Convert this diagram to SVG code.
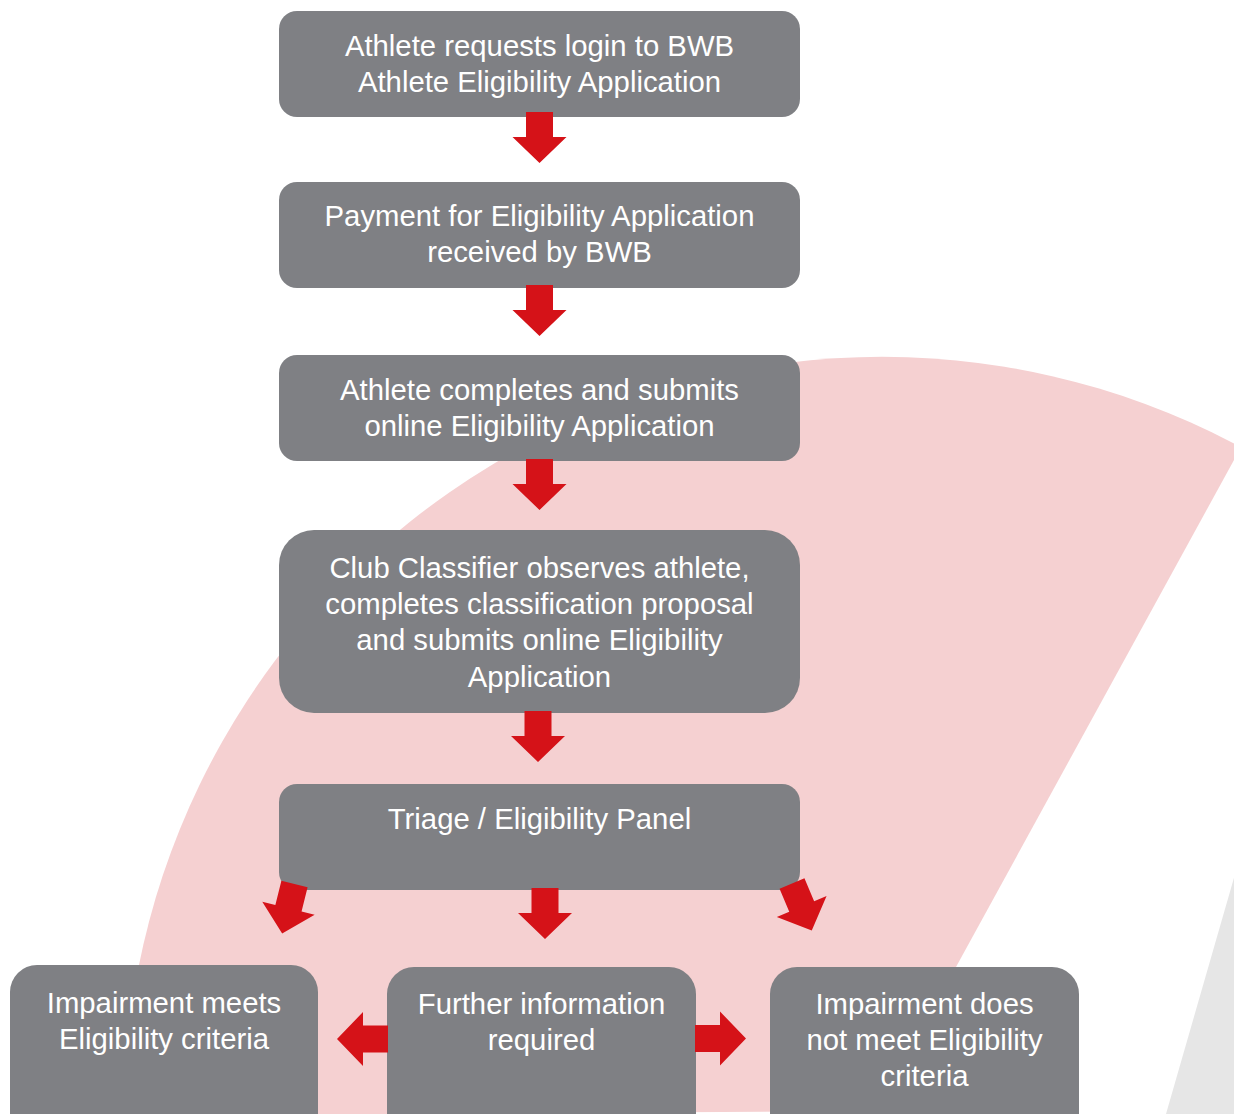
<svg xmlns="http://www.w3.org/2000/svg" width="1234" height="1114" viewBox="0 0 1234 1114">
<defs>
<style>
.box{fill:#7f8084}
.t{font-family:"Liberation Sans",Arial,sans-serif;font-size:29.3px;fill:#ffffff;text-anchor:middle}
.arr{fill:#d51218}
</style>
<polygon id="arrow" class="arr" points="-13.5,0 13.5,0 13.5,25 27,25 0,51 -27,25 -13.5,25"/>
</defs>
<rect width="1234" height="1114" fill="#ffffff"/>
<g id="background">
<path d="M124,1114 A758,758 0 0 1 1234,443.5 L1234,460 L877,1111 L400,1114 Z" fill="#f5d0d1"/>
<polygon points="1234.5,876 1234.5,1114 1166,1114" fill="#e6e6e6"/>
</g>
<g id="n1"><rect class="box" x="279" y="11" width="521" height="106" rx="18"/>
<text class="t" x="539.5" y="55.5">Athlete requests login to BWB</text>
<text class="t" x="539.5" y="91.5">Athlete Eligibility Application</text></g>
<g id="n2"><rect class="box" x="279" y="182" width="521" height="106" rx="18"/>
<text class="t" x="539.5" y="225.5">Payment for Eligibility Application</text>
<text class="t" x="539.5" y="262">received by BWB</text></g>
<g id="n3"><rect class="box" x="279" y="355" width="521" height="106" rx="18"/>
<text class="t" x="539.5" y="399.5">Athlete completes and submits</text>
<text class="t" x="539.5" y="435.5">online Eligibility Application</text></g>
<g id="n4"><rect class="box" x="279" y="530" width="521" height="183" rx="35"/>
<text class="t" x="539.5" y="577.5">Club Classifier observes athlete,</text>
<text class="t" x="539.5" y="613.5">completes classification proposal</text>
<text class="t" x="539.5" y="650">and submits online Eligibility</text>
<text class="t" x="539.5" y="686.5">Application</text></g>
<g id="n5"><rect class="box" x="279" y="784" width="521" height="106" rx="18"/>
<text class="t" x="539.5" y="828.5">Triage / Eligibility Panel</text></g>
<g id="n6"><rect class="box" x="10" y="965" width="308" height="180" rx="27"/>
<text class="t" x="164" y="1012.5">Impairment meets</text>
<text class="t" x="164" y="1048.5">Eligibility criteria</text></g>
<g id="n7"><rect class="box" x="387" y="967" width="309" height="180" rx="27"/>
<text class="t" x="541.5" y="1013.5">Further information</text>
<text class="t" x="541.5" y="1049.5">required</text></g>
<g id="n8"><rect class="box" x="770" y="967" width="309" height="180" rx="27"/>
<text class="t" x="924.5" y="1013.5">Impairment does</text>
<text class="t" x="924.5" y="1049.5">not meet Eligibility</text>
<text class="t" x="924.5" y="1086">criteria</text></g>
<g id="connectors">
<use href="#arrow" transform="translate(539.5,112)"/>
<use href="#arrow" transform="translate(539.5,285)"/>
<use href="#arrow" transform="translate(539.5,459)"/>
<use href="#arrow" transform="translate(538,711)"/>
<use href="#arrow" transform="translate(545,888)"/>
<use href="#arrow" transform="translate(294.5,884) rotate(14)"/>
<use href="#arrow" transform="translate(792,883.5) rotate(-22.8)"/>
<use href="#arrow" transform="translate(388,1039) rotate(90)"/>
<use href="#arrow" transform="translate(695,1038.5) rotate(-90)"/>
</g>
</svg>
